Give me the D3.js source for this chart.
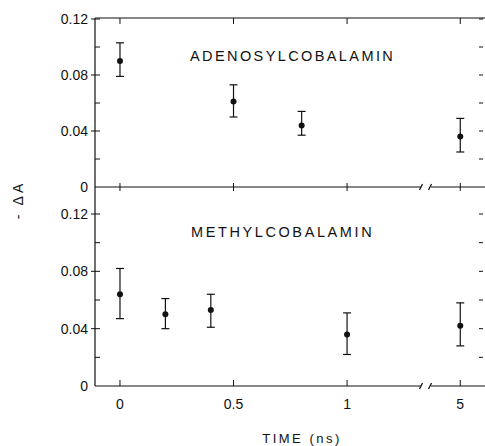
<!DOCTYPE html>
<html>
<head>
<meta charset="utf-8">
<script src="https://d3js.org/d3.v7.min.js"></script>
<style>
  body { margin: 0; background: #fff; }
  text { font-family: "Liberation Sans", Arial, sans-serif; fill: #111; }
</style>
</head>
<body>
<svg id="vis"></svg>
<script>
    // Data
    var adenoTime = [0, 0.5, 0.8, 5];
    var adenoVal  = [0.090, 0.061, 0.044, 0.036];
    var adenoHi   = [0.103, 0.073, 0.054, 0.049];
    var adenoLo   = [0.079, 0.050, 0.037, 0.025];

    var methylTime = [0, 0.2, 0.4, 1, 5];
    var methylVal  = [0.064, 0.050, 0.053, 0.036, 0.042];
    var methylHi   = [0.082, 0.061, 0.064, 0.051, 0.058];
    var methylLo   = [0.047, 0.040, 0.041, 0.022, 0.028];

    var xTicks = [0, 0.5, 1, 5];
    var xTickLabels = ["0", "0.5", "1", "5"];
    var yMajor = [0, 0.04, 0.08, 0.12];
    var yMajorLabels = ["0", "0.04", "0.08", "0.12"];
    var yMinor = [0.02, 0.06, 0.1];

    var width = 485, height = 446;
    var left = 95, right = 483;

    var svg = d3.select("#vis")
        .attr("width", width)
        .attr("height", height);

    // broken x axis: 0..1.33 then jump to 4.88..5.1
    var x = d3.scaleLinear()
        .domain([-0.11, 1.33, 4.88, 5.1])
        .range([left, 422, 433, right]);

    // one y scale per panel
    var yTop = d3.scaleLinear().domain([0, 0.12]).range([187, 19]);
    var yBot = d3.scaleLinear().domain([0, 0.12]).range([386, 214]);

    var ink = "#111";

    function hline(y0, broken) {
        if (broken) {
            svg.append("line").attr("x1", left).attr("x2", 421).attr("y1", y0).attr("y2", y0)
                .attr("stroke", ink).attr("stroke-width", 1.2);
            svg.append("line").attr("x1", 431).attr("x2", width).attr("y1", y0).attr("y2", y0)
                .attr("stroke", ink).attr("stroke-width", 1.2);
            // the two slashes
            [421, 430].forEach(function (sx) {
                svg.append("line").attr("x1", sx - 1.5).attr("x2", sx + 1.5)
                    .attr("y1", y0 + 3).attr("y2", y0 - 3)
                    .attr("stroke", ink).attr("stroke-width", 1.2);
            });
        } else {
            svg.append("line").attr("x1", left).attr("x2", width).attr("y1", y0).attr("y2", y0)
                .attr("stroke", ink).attr("stroke-width", 1.2);
        }
    }

    // frame lines
    hline(18, false);
    hline(187, true);
    hline(386, true);
    svg.append("line").attr("x1", left).attr("x2", left).attr("y1", 18).attr("y2", 386)
        .attr("stroke", ink).attr("stroke-width", 1.2);

    // x ticks
    xTicks.forEach(function (t) {
        var px = x(t);
        svg.append("line").attr("x1", px).attr("x2", px).attr("y1", 18).attr("y2", 24)
            .attr("stroke", ink);
        svg.append("line").attr("x1", px).attr("x2", px).attr("y1", 183).attr("y2", 191)
            .attr("stroke", ink);
        svg.append("line").attr("x1", px).attr("x2", px).attr("y1", 386).attr("y2", 380)
            .attr("stroke", ink);
    });

    svg.append("g")
        .selectAll("text")
        .data(xTicks)
        .enter()
        .append("text")
        .attr("x", function (d) { return x(d); })
        .attr("y", 409)
        .attr("text-anchor", "middle")
        .style("font-size", "14px")
        .text(function (d, i) { return xTickLabels[i]; });

    // y ticks for both panels, left and right side
    function yAxis(y) {
        yMajor.concat(yMinor).forEach(function (v) {
            var py = y(v);
            if (v > 0) {
                svg.append("line").attr("x1", left).attr("x2", left + 5).attr("y1", py).attr("y2", py)
                    .attr("stroke", ink);
                svg.append("line").attr("x1", right - 4).attr("x2", right).attr("y1", py).attr("y2", py)
                    .attr("stroke", ink);
            }
        });
        yMajor.forEach(function (v, i) {
            var py = y(v);
            if (v > 0) {
                svg.append("line").attr("x1", left - 4).attr("x2", left).attr("y1", py).attr("y2", py)
                    .attr("stroke", ink);
            }
            svg.append("text")
                .attr("x", left - 7)
                .attr("y", py + 5)
                .attr("text-anchor", "end")
                .style("font-size", "14px")
                .text(yMajorLabels[i]);
        });
    }
    yAxis(yTop);
    yAxis(yBot);

    // points with error bars
    function drawSeries(y, times, vals, his, los) {
        var g = svg.append("g");
        times.forEach(function (t, i) {
            var px = x(t);
            g.append("line").attr("x1", px).attr("x2", px)
                .attr("y1", y(his[i])).attr("y2", y(los[i]))
                .attr("stroke", ink).attr("stroke-width", 1.2);
            [his[i], los[i]].forEach(function (e) {
                g.append("line").attr("x1", px - 4).attr("x2", px + 4)
                    .attr("y1", y(e)).attr("y2", y(e))
                    .attr("stroke", ink).attr("stroke-width", 1.2);
            });
        });
        g.selectAll("circle")
            .data(times)
            .enter()
            .append("circle")
            .attr("cx", function (d) { return x(d); })
            .attr("cy", function (d, i) { return y(vals[i]); })
            .attr("r", 3)
            .attr("fill", ink);
    }
    drawSeries(yTop, adenoTime, adenoVal, adenoHi, adenoLo);
    drawSeries(yBot, methylTime, methylVal, methylHi, methylLo);

    // panel names
    svg.append("text")
        .attr("x", 190).attr("y", 61)
        .style("font-size", "14.5px")
        .style("letter-spacing", "2.4px")
        .text("ADENOSYLCOBALAMIN");

    svg.append("text")
        .attr("x", 191).attr("y", 237)
        .style("font-size", "14.5px")
        .style("letter-spacing", "2.6px")
        .text("METHYLCOBALAMIN");

    // axis titles
    svg.append("text")
        .attr("transform", "translate(23,200) rotate(-90)")
        .attr("text-anchor", "middle")
        .style("font-size", "14px")
        .style("letter-spacing", "3px")
        .text("- ΔA");

    svg.append("text")
        .attr("x", 302).attr("y", 443)
        .attr("text-anchor", "middle")
        .style("font-size", "13px")
        .style("letter-spacing", "2.5px")
        .text("TIME (ns)");
</script>
</body>
</html>
